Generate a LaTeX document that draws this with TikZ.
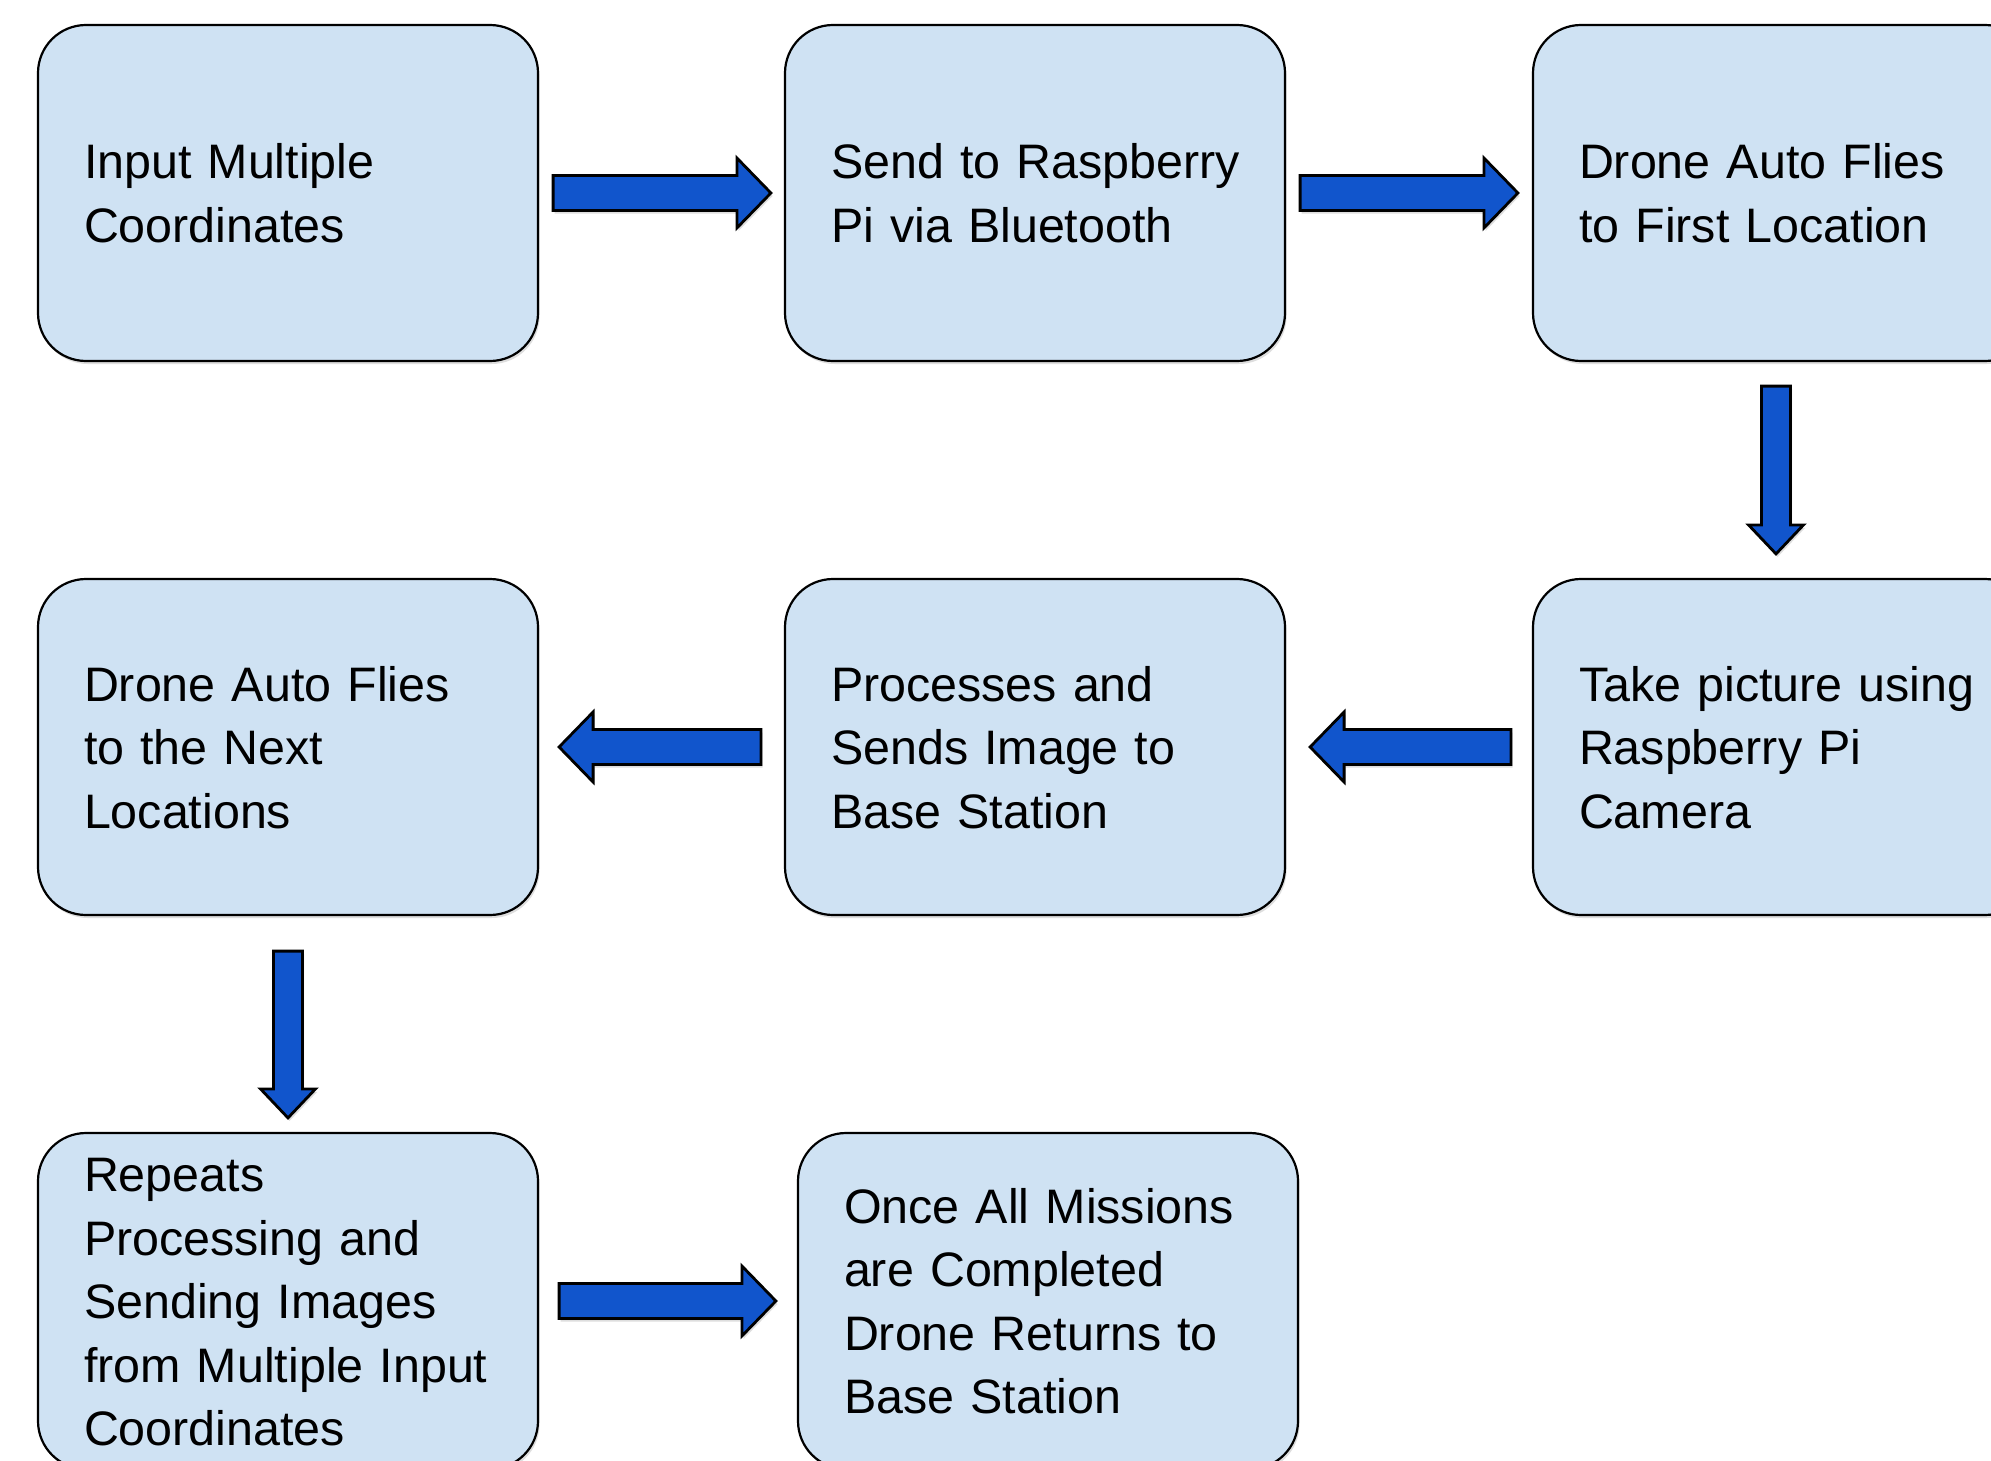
\documentclass[tikz,border=0pt]{standalone}
\usepackage{fontspec}
\setmainfont{Liberation Sans}
\usetikzlibrary{calc,shadows}
\definecolor{boxfill}{HTML}{CFE2F3}
\definecolor{arrowfill}{HTML}{1155CC}
\newcommand\boxlines[1]{\begin{tabular}{@{}l@{}}\rule{0pt}{27.2pt}#1\end{tabular}}
\tikzset{
  stepbox/.style={draw=black, line width=1.1pt, fill=boxfill, rounded corners=24pt,
    minimum width=250pt, minimum height=168pt, inner xsep=23pt, inner ysep=0pt,
    text width=204pt, align=left, anchor=center,
    font=\fontsize{24.2pt}{31.75pt}\selectfont,
    drop shadow={shadow xshift=0.8pt, shadow yshift=-1.5pt, fill=black!13, opacity=1}},
  blockarrow/.style={draw=black, line width=1.4pt, fill=arrowfill, line join=miter,
    drop shadow={shadow xshift=0.8pt, shadow yshift=-1.5pt, fill=black!13, opacity=1}},
  rarrow/.style={blockarrow, to path={let \p1=(\tikztostart), \p2=(\tikztotarget) in
    (\x1,\y1+8.75pt) -- (\x2-17pt,\y1+8.75pt) -- (\x2-17pt,\y1+17.5pt) -- (\x2,\y1)
    -- (\x2-17pt,\y1-17.5pt) -- (\x2-17pt,\y1-8.75pt) -- (\x1,\y1-8.75pt) -- cycle}},
  larrow/.style={blockarrow, to path={let \p1=(\tikztostart), \p2=(\tikztotarget) in
    (\x1,\y1+8.75pt) -- (\x2+17pt,\y1+8.75pt) -- (\x2+17pt,\y1+17.5pt) -- (\x2,\y1)
    -- (\x2+17pt,\y1-17.5pt) -- (\x2+17pt,\y1-8.75pt) -- (\x1,\y1-8.75pt) -- cycle}},
  darrow/.style={blockarrow, to path={let \p1=(\tikztostart), \p2=(\tikztotarget) in
    (\x1-7.25pt,\y1) -- (\x1-7.25pt,\y2+14.5pt) -- (\x1-13.75pt,\y2+14.5pt) -- (\x1,\y2)
    -- (\x1+13.75pt,\y2+14.5pt) -- (\x1+7.25pt,\y2+14.5pt) -- (\x1+7.25pt,\y1) -- cycle}},
}
\begin{document}
\begin{tikzpicture}[x=0.5pt, y=-0.5pt]
\useasboundingbox[fill=white] (0,0) rectangle (1991,1461);

\node[stepbox] (b1) at (288,193) {\boxlines{Input Multiple\\Coordinates}};
\node[stepbox] (b2) at (1035,193) {\boxlines{Send to Raspberry\\Pi via Bluetooth}};
\node[stepbox] (b3) at (1783,193) {\boxlines{Drone Auto Flies\\to First Location}};
\node[stepbox] (b4) at (1783,747) {\boxlines{Take picture using\\Raspberry Pi\\Camera}};
\node[stepbox] (b5) at (1035,747) {\boxlines{Processes and\\Sends Image to\\Base Station}};
\node[stepbox] (b6) at (288,747) {\boxlines{Drone Auto Flies\\to the Next\\Locations}};
\node[stepbox] (b7) at (288,1301) {\boxlines{Repeats\\Processing and\\Sending Images\\from Multiple Input\\Coordinates}};
\node[stepbox] (b8) at (1048,1301) {\boxlines{Once All Missions\\are Completed\\Drone Returns to\\Base Station}};

\draw[rarrow] ($(b1.east)+(14,0)$) to ($(b2.west)+(-13,0)$);
\draw[rarrow] ($(b2.east)+(14,0)$) to ($(b3.west)+(-14,0)$);
\draw[darrow] ($(b3.south)+(-7,24)$) to ($(b4.north)+(-7,-24)$);
\draw[larrow] ($(b4.west)+(-21,0)$) to ($(b5.east)+(24,0)$);
\draw[larrow] ($(b5.west)+(-23,0)$) to ($(b6.east)+(20,0)$);
\draw[darrow] ($(b6.south)+(0,35)$) to ($(b7.north)+(0,-14)$);
\draw[rarrow] ($(b7.east)+(20,0)$) to ($(b8.west)+(-21,0)$);
\end{tikzpicture}
\end{document}
